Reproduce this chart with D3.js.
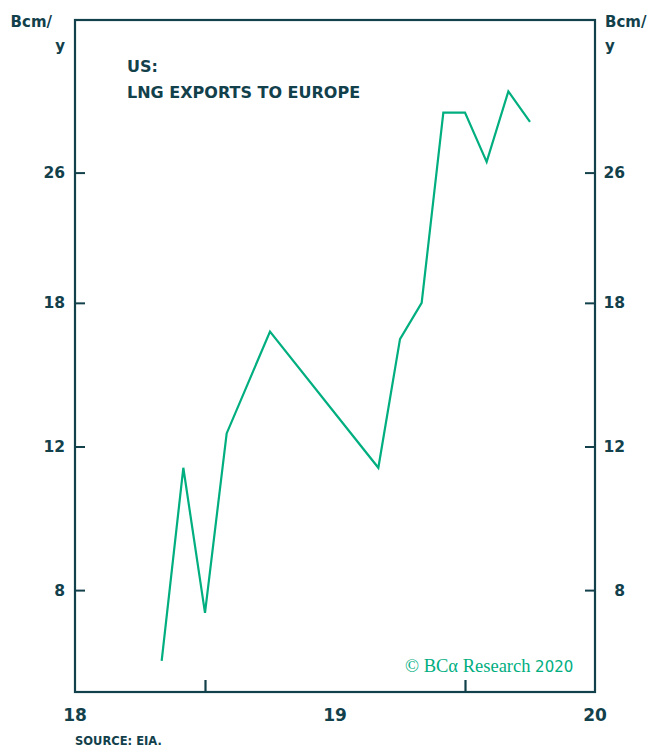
<!DOCTYPE html>
<html>
<head>
<meta charset="utf-8">
<script src="https://cdn.jsdelivr.net/npm/d3@7"></script>
<style>
  body { margin: 0; background: #ffffff; }
  svg text { font-family: "DejaVu Sans", "Open Sans", sans-serif; }
</style>
</head>
<body>
<svg id="chart" width="655" height="747"></svg>
<script>
// US LNG exports to Europe, Bcm/y (monthly, annualised)
const months = ["2018-05", "2018-06", "2018-07", "2018-08", "2018-10",
                "2019-03", "2019-04", "2019-05", "2019-06", "2019-07",
                "2019-08", "2019-09", "2019-10"];
const exportsBcm = [6.55, 11.3, 7.5, 12.45, 16.6,
                    11.3, 16.25, 18.0, 30.8, 30.8,
                    26.8, 32.7, 30.0];
const yTicks = [8, 12, 18, 26];
const xLabelYears = [2018, 2019, 2020];
const xTickYears = [2018.5, 2019.5];

const INK = "#12404b";
const GREEN = "#00ae7f";

// month string -> fractional year
const toYear = s => { const [yr, m] = s.split("-").map(Number); return yr + (m - 1) / 12; };
const data = months.map((m, i) => ({ t: toYear(m), v: exportsBcm[i] }));

const plotLeft = 75, plotRight = 595, plotTop = 20, plotBottom = 692;
const svg = d3.select("#chart");

const x = d3.scaleLinear().domain([2018, 2020]).range([plotLeft, plotRight]);
const y = d3.scaleLog().domain([6, 40]).range([plotBottom, plotTop]);

// frame
svg.append("rect")
  .attr("x", plotLeft).attr("y", plotTop)
  .attr("width", plotRight - plotLeft).attr("height", plotBottom - plotTop)
  .attr("fill", "none").attr("stroke", INK).attr("stroke-width", 2.2);

// left and right axes (ticks point inward)
const gL = svg.append("g").attr("transform", `translate(${plotLeft},0)`)
  .call(d3.axisRight(y).tickValues(yTicks).tickSize(10).tickFormat(""));
const gR = svg.append("g").attr("transform", `translate(${plotRight},0)`)
  .call(d3.axisLeft(y).tickValues(yTicks).tickSize(10).tickFormat(""));
[gL, gR].forEach(g => {
  g.select(".domain").remove();
  g.selectAll(".tick line").attr("stroke", INK).attr("stroke-width", 2);
});

// y tick labels
[65, 625].forEach(px => {
  svg.append("g").selectAll("text").data(yTicks).join("text")
    .attr("x", px).attr("y", d => y(d)).attr("dy", "0.36em")
    .attr("text-anchor", "end").attr("font-size", 15.5).attr("font-weight", 700)
    .attr("fill", INK).text(d => d);
});

// bottom axis: mid-year ticks, year labels at boundaries
const gX = svg.append("g").attr("transform", `translate(0,${plotBottom})`)
  .call(d3.axisTop(x).tickValues(xTickYears).tickSize(12).tickFormat(""));
gX.select(".domain").remove();
gX.selectAll(".tick line").attr("stroke", INK).attr("stroke-width", 2.2);

svg.append("g").selectAll("text").data(xLabelYears).join("text")
  .attr("x", d => x(d)).attr("y", 721)
  .attr("text-anchor", "middle").attr("font-size", 17).attr("font-weight", 700)
  .attr("fill", INK).text(d => String(d).slice(2));

// unit labels
[[52, 65, "end"], [605, 605, "start"]].forEach(([px1, px2, anchor]) => {
  svg.append("text").attr("x", px1).attr("y", 27).attr("text-anchor", anchor)
    .attr("font-size", 15).attr("font-weight", 700).attr("fill", INK).text("Bcm/");
  svg.append("text").attr("x", px2).attr("y", 51).attr("text-anchor", anchor)
    .attr("font-size", 15).attr("font-weight", 700).attr("fill", INK).text("y");
});

// series label
svg.append("text").attr("x", 127).attr("y", 72)
  .attr("font-size", 16).attr("font-weight", 700).attr("fill", INK).text("US:");
svg.append("text").attr("x", 127).attr("y", 98)
  .attr("font-size", 16).attr("font-weight", 700).attr("fill", INK).text("LNG EXPORTS TO EUROPE");

// line
const line = d3.line().x(d => x(d.t)).y(d => y(d.v));
svg.append("path").datum(data)
  .attr("d", line).attr("fill", "none")
  .attr("stroke", GREEN).attr("stroke-width", 2.2).attr("stroke-linejoin", "miter");

// copyright
const cr = svg.append("text").attr("x", 405).attr("y", 672).attr("fill", GREEN);
cr.append("tspan").attr("font-family", "'Liberation Serif', 'DejaVu Serif', serif")
  .attr("font-size", 18.5).text("© BCα Research ");
cr.append("tspan").attr("font-size", 15).text("2020");

// source
svg.append("text").attr("x", 75).attr("y", 745)
  .attr("font-size", 11.5).attr("font-weight", 700).attr("fill", INK).text("SOURCE: EIA.");
</script>
</body>
</html>
